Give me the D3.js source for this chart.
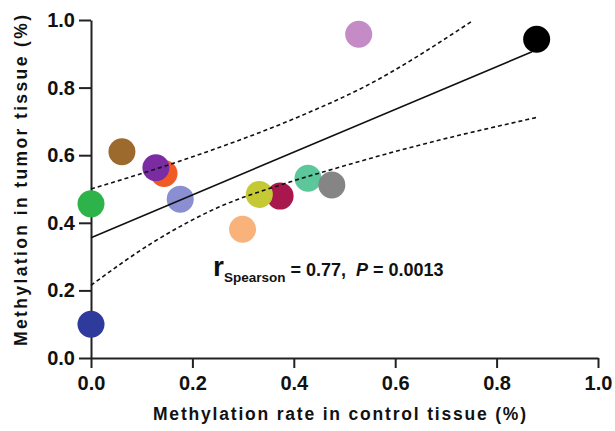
<!DOCTYPE html>
<html>
<head>
<meta charset="utf-8">
<script src="https://cdn.jsdelivr.net/npm/d3@7"></script>
<style>
  body { margin: 0; background: #fff; }
  svg text { font-family: "Liberation Sans", Arial, sans-serif; font-weight: bold; fill: #111; }
  .axis path, .axis line { stroke: #222; stroke-width: 2; }
  .axis text { font-size: 20px; }
</style>
</head>
<body>
<div id="chart"></div>
<script>
//values
//control tissue (x) and tumor tissue (y), one entry per sample
const samples = ["blue", "green", "brown", "orange", "purple", "lavender", "peach", "crimson", "yellowgreen", "teal", "gray", "pink", "black"]
const controlRate = [0.0, 0.0, 0.061, 0.144, 0.128, 0.176, 0.299, 0.373, 0.332, 0.428, 0.475, 0.528, 0.879]
const tumorRate = [0.10, 0.456, 0.61, 0.546, 0.563, 0.47, 0.381, 0.479, 0.484, 0.532, 0.512, 0.958, 0.943]
const dotColors = ["#2e3a9c", "#2db34a", "#9b6a2c", "#f05a24", "#7b2ca2", "#8a8fd2", "#f8b27a", "#a8184c", "#c5c934", "#5cc79b", "#858585", "#c48bc7", "#000000"]

//fitted line and its confidence band, read at a few points
const fitX = [0, 0.87]
const fitY = [0.356, 0.906]
const upperX = [0, 0.18, 0.41, 0.54, 0.75]
const upperY = [0.50, 0.585, 0.714, 0.803, 0.995]
const lowerX = [0, 0.12, 0.25, 0.38, 0.48, 0.61, 0.88]
const lowerY = [0.215, 0.34, 0.445, 0.515, 0.56, 0.615, 0.712]

const xTicks = [0, 0.2, 0.4, 0.6, 0.8, 1.0]
const yTicks = [0, 0.2, 0.4, 0.6, 0.8, 1.0]

const statText = { r: "0.77", p: "0.0013" }

//size
const W = 615, H = 431

const svg = d3.select("#chart").append("svg")
  .attr("width", W)
  .attr("height", H)

const xScale = d3.scaleLinear().domain([0, 1]).range([91, 598])
const yScale = d3.scaleLinear().domain([0, 1]).range([358, 20])

//axes
svg.append("g")
  .attr("class", "axis")
  .attr("transform", "translate(0," + yScale(0) + ")")
  .call(d3.axisBottom(xScale).tickValues(xTicks).tickFormat(d3.format(".1f"))
    .tickSize(10).tickSizeOuter(0).tickPadding(8))

svg.append("g")
  .attr("class", "axis")
  .attr("transform", "translate(" + xScale(0) + ",0)")
  .call(d3.axisLeft(yScale).tickValues(yTicks).tickFormat(d3.format(".1f"))
    .tickSize(12).tickSizeOuter(0).tickPadding(4))

//dots
svg.append("g")
  .selectAll("circle")
  .data(samples)
  .join("circle")
  .attr("cx", (d, i) => xScale(controlRate[i]))
  .attr("cy", (d, i) => yScale(tumorRate[i]))
  .attr("r", 13.5)
  .attr("fill", (d, i) => dotColors[i])

//lines on top of the dots
const line = d3.line()
  .x(d => xScale(d[0]))
  .y(d => yScale(d[1]))

svg.append("path")
  .attr("d", line(d3.zip(fitX, fitY)))
  .attr("fill", "none")
  .attr("stroke", "#111")
  .attr("stroke-width", 1.6)

const bandLine = line.curve(d3.curveMonotoneX)
;[d3.zip(upperX, upperY), d3.zip(lowerX, lowerY)].forEach(pts => {
  svg.append("path")
    .attr("d", bandLine(pts))
    .attr("fill", "none")
    .attr("stroke", "#111")
    .attr("stroke-width", 1.6)
    .attr("stroke-dasharray", "4,3")
})

//statistics label
let stat = svg.append("text")
  .attr("x", 213)
  .attr("y", 276)
  .style("white-space", "pre")

stat.append("tspan").style("font-size", "28px").text("r")
stat.append("tspan").style("font-size", "13.5px").attr("dy", 6).text("Spearson")
stat.append("tspan").style("font-size", "18px").attr("dy", -6).text(" = " + statText.r + ",  ")
stat.append("tspan").style("font-size", "18px").style("font-style", "italic").text("P")
stat.append("tspan").style("font-size", "18px").text(" = " + statText.p)

//axis titles
svg.append("text")
  .attr("x", 153)
  .attr("y", 420)
  .attr("textLength", 373)
  .attr("lengthAdjust", "spacing")
  .style("font-size", "17.5px")
  .text("Methylation rate in control tissue (%)")

svg.append("text")
  .attr("transform", "translate(27,346) rotate(-90)")
  .attr("textLength", 331)
  .attr("lengthAdjust", "spacing")
  .style("font-size", "17.5px")
  .text("Methylation in tumor tissue (%)")
</script>
</body>
</html>
